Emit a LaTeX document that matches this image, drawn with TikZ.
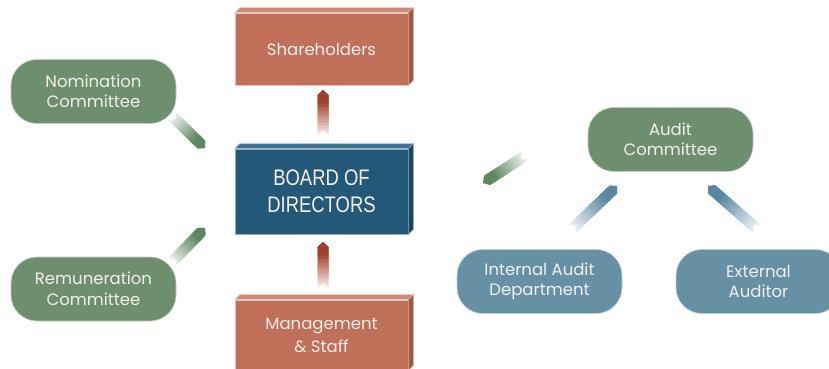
\documentclass[tikz,border=0pt]{standalone}
\usepackage{fontspec}
\setmainfont{Poppins}
\newfontfamily\condfont{Liberation Sans}[FakeStretch=0.82]
\usetikzlibrary{calc,backgrounds}

\definecolor{grn}{HTML}{6E8F6E}
\definecolor{grndk}{HTML}{3F6C45}
\definecolor{blu}{HTML}{6690A4}
\definecolor{bludk}{HTML}{3A7087}
\definecolor{rd}{HTML}{C07058}
\definecolor{rdtop}{HTML}{CF8A75}
\definecolor{rdside}{HTML}{A4573F}
\definecolor{brd}{HTML}{245878}
\definecolor{brdtop}{HTML}{3C7194}
\definecolor{brdside}{HTML}{1A4663}
\definecolor{txt}{HTML}{F2F0EC}
\definecolor{arrrd}{HTML}{A0402B}
\definecolor{arrgr}{HTML}{5C885E}
\definecolor{arrbl}{HTML}{5787A1}

\tikzset{
  pill/.style={rounded corners=26pt, minimum width=165pt, minimum height=64pt,
    align=center, text=txt, font=\fontsize{16.5}{20.5}\selectfont, inner sep=0pt,
    line width=0.6pt},
  gpill/.style={pill, fill=grn, draw=white!55!grn},
  bpill/.style={pill, fill=blu, draw=white!55!blu},
  block/.style={minimum width=173pt, align=center, text=txt, inner sep=0pt,
    line width=0.6pt, font=\fontsize{16.5}{23}\selectfont},
  rblock/.style={block, fill=rd, draw=white!60!rd},
  bblock/.style={block, fill=brd, draw=white!50!brd, font=\condfont\fontsize{22.5}{27}\selectfont},
}

% gradient stripe arrow from tail #1 to head #2 in colour #3
\newcommand\stripe[3]{%
  \pgfpointdiff{\pgfpointanchor{#1}{center}}{\pgfpointanchor{#2}{center}}%
  \pgfgetlastxy{\sdx}{\sdy}%
  \pgfmathsetmacro\sang{atan2(\sdy,\sdx)}%
  \pgfmathsetmacro\slen{veclen(\sdx,\sdy)}%
  \begin{scope}[shift={(#1)}, rotate=\sang]
    \clip (0pt,-5.5pt) -- (\slen pt-5pt,-5.5pt) -- (\slen pt,0pt) -- (\slen pt-5pt,5.5pt)
      -- (0pt,5.5pt) -- (5pt,0pt) -- cycle;
    \foreach \i in {0,...,29} {
      \pgfmathsetmacro\xa{\i*\slen/30}%
      \pgfmathsetmacro\xb{(\i+1)*\slen/30+1.2}%
      \pgfmathtruncatemacro\pc{min(100,8+125*(\i+0.5)/30)}%
      \fill[#3!\pc!white] (\xa pt,-7pt) rectangle (\xb pt,7pt);
    }
  \end{scope}}

\newcommand\pillback[2]{%
  \fill[#2, rounded corners=26pt] ($(#1.south west)+(0,-3.5)$) rectangle ($(#1.north east)+(0,-3.5)$);}

\newcommand\blockfaces[3]{%
  \filldraw[#2, draw=white!60!#2, line width=0.5pt] (#1.north west) -- ++(5,-5) -- ($(#1.north east)+(5,-5)$) -- (#1.north east) -- cycle;
  \filldraw[#3, draw=white!50!#3, line width=0.5pt] (#1.north east) -- ++(5,-5) -- ($(#1.south east)+(5,-5)$) -- (#1.south east) -- cycle;}

\begin{document}
\begin{tikzpicture}[x=1pt, y=-1pt]
  \useasboundingbox (0,0) rectangle (829,369);
  \fill[white] (0,0) rectangle (829,369);
  \clip (0,0) rectangle (829,369);

  % blocks
  \node[rblock, minimum height=72pt] (share) at (321.5,49) {Shareholders};
  \node[bblock, minimum height=85pt] (board) at (321.5,191.5) {BOARD OF\\DIRECTORS};
  \node[rblock, minimum height=70pt] (mgmt) at (321.5,335) {Management\\\& Staff};

  % pills
  \node[gpill] (nom) at (93.5,91.5) {Nomination\\Committee};
  \node[gpill] (rem) at (93.5,289) {Remuneration\\Committee};
  \node[gpill] (aud) at (670.5,139.5) {Audit\\Committee};
  \node[bpill] (int) at (539.5,281.5) {Internal Audit\\Department};
  \node[bpill] (ext) at (758.5,281.5) {External\\Auditor};

  \begin{scope}[on background layer]
    \pillback{nom}{grndk}
    \pillback{rem}{grndk}
    \pillback{aud}{grndk}
    \pillback{int}{bludk}
    \pillback{ext}{bludk}
  \end{scope}
  \blockfaces{share}{rdtop}{rdside}
  \blockfaces{board}{brdtop}{brdside}
  \blockfaces{mgmt}{rdtop}{rdside}

  % stripe arrow end points
  \coordinate (nomT) at (172,116);  \coordinate (nomH) at (205,148);
  \coordinate (remT) at (172,262);  \coordinate (remH) at (205,228);
  \coordinate (audT) at (525,156);  \coordinate (audH) at (483,183);
  \coordinate (intT) at (572,229);  \coordinate (intH) at (617,186);
  \coordinate (extT) at (757,229);  \coordinate (extH) at (708,186);
  \coordinate (upT)  at (323,135);  \coordinate (upH)  at (323,90);
  \coordinate (loT)  at (323,288);  \coordinate (loH)  at (323,242);

  \stripe{nomT}{nomH}{arrgr}
  \stripe{remT}{remH}{arrgr}
  \stripe{audT}{audH}{arrgr}
  \stripe{intT}{intH}{arrbl}
  \stripe{extT}{extH}{arrbl}
  \stripe{upT}{upH}{arrrd}
  \stripe{loT}{loH}{arrrd}
\end{tikzpicture}
\end{document}
